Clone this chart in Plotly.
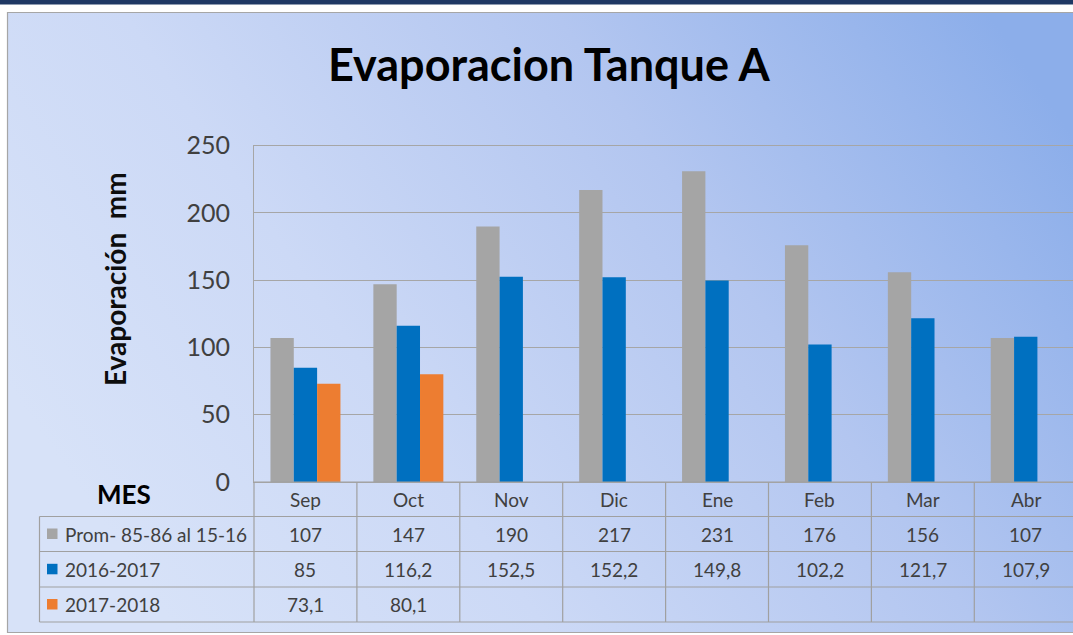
import base64
import plotly.graph_objects as go

# ---------------- data ----------------
months = ["Sep", "Oct", "Nov", "Dic", "Ene", "Feb", "Mar", "Abr"]
series_names = ["Prom- 85-86 al 15-16", "2016-2017", "2017-2018"]
prom = [107, 147, 190, 217, 231, 176, 156, 107]
s2016 = [85, 116.2, 152.5, 152.2, 149.8, 102.2, 121.7, 107.9]
s2017 = [73.1, 80.1, None, None, None, None, None, None]
y_ticks = [0, 50, 100, 150, 200, 250]
colors = ["#a5a5a5", "#0070c0", "#ed7d31"]

W, H = 1073, 635
FONT = "Lato"
TXT = "#404040"
LINE = "#a0a0a0"


def px(x):
    return x / W


def py(y):
    return 1 - y / H


def fmt(v):
    if v is None:
        return ""
    return ("%g" % v).replace(".", ",")


all_series = [prom, s2016, s2017]

fig = go.Figure()
for name, vals, col in zip(series_names, all_series, colors):
    fig.add_trace(go.Bar(x=months, y=vals, name=name, marker=dict(color=col, line=dict(width=0)),
                         showlegend=False, hoverinfo="x+y+name"))

# geometry (pixels)
plot_left, plot_top, plot_bottom = 254, 145.7, 482
cat_w = 102.9
x_end = -0.5 + (W - plot_left) / cat_w

# background gradient image
svg = ("<svg xmlns='http://www.w3.org/2000/svg' width='1066' height='621' viewBox='0 0 1066 621' "
       "preserveAspectRatio='none'><defs><linearGradient id='g' x1='0' y1='0.6' x2='1' y2='0.2'>"
       "<stop offset='0' stop-color='#d7e2f8'/><stop offset='0.3' stop-color='#ccd9f6'/>"
       "<stop offset='0.65' stop-color='#b3c6f0'/><stop offset='1' stop-color='#8caeea'/>"
       "</linearGradient></defs><rect width='1066' height='621' fill='url(#g)'/></svg>")
src = "data:image/svg+xml;base64," + base64.b64encode(svg.encode()).decode()

shapes = []
# navy band
shapes.append(dict(type="rect", xref="paper", yref="paper", x0=0, x1=1, y0=py(0), y1=py(4.5),
                   fillcolor="#1f3864", line=dict(width=0), layer="above"))
# chart border
shapes.append(dict(type="rect", xref="paper", yref="paper", x0=px(7.5), x1=px(1090), y0=py(12.5), y1=py(632.5),
                   fillcolor="rgba(0,0,0,0)", line=dict(color="#a6a6a6", width=1.2), layer="above"))

row_lines = [516.5, 551.5, 587, 622]
for yl in row_lines:
    shapes.append(dict(type="line", xref="paper", yref="paper", x0=px(39.5), x1=px(1090), y0=py(yl), y1=py(yl),
                       line=dict(color=LINE, width=1.2), layer="above"))
shapes.append(dict(type="line", xref="paper", yref="paper", x0=px(plot_left), x1=px(1090),
                   y0=py(plot_bottom), y1=py(plot_bottom), line=dict(color=LINE, width=1.2), layer="above"))
shapes.append(dict(type="line", xref="paper", yref="paper", x0=px(39.5), x1=px(39.5),
                   y0=py(516.5), y1=py(622), line=dict(color=LINE, width=1.2), layer="above"))
shapes.append(dict(type="line", xref="paper", yref="paper", x0=px(plot_left), x1=px(plot_left),
                   y0=py(plot_bottom), y1=py(622), line=dict(color=LINE, width=1.2), layer="above"))
for i in range(1, len(months) + 1):
    shapes.append(dict(type="line", xref="x", yref="paper", x0=i - 0.5, x1=i - 0.5,
                       y0=py(plot_bottom), y1=py(622), line=dict(color=LINE, width=1.2), layer="above"))

annotations = []
# title
annotations.append(dict(text="<b>Evaporacion Tanque A</b>", xref="paper", yref="paper", x=px(549), y=py(64),
                        showarrow=False, xanchor="center", yanchor="middle",
                        font=dict(family=FONT, size=45, color="#000000")))
# y-axis title
annotations.append(dict(text="<b>Evaporación\u00a0\u00a0mm</b>", xref="paper", yref="paper", x=px(115), y=py(279),
                        showarrow=False, textangle=-90, xanchor="center", yanchor="middle",
                        font=dict(family=FONT, size=28, color="#0d0d0d")))
# MES
annotations.append(dict(text="<b>MES</b>", xref="paper", yref="paper", x=px(124), y=py(494),
                        showarrow=False, xanchor="center", yanchor="middle",
                        font=dict(family=FONT, size=26, color="#000000")))

row_centers = [534, 569.3, 604.5]
# month header
for m in months:
    annotations.append(dict(text=m, xref="x", yref="paper", x=m, y=py(499.5), showarrow=False,
                            xanchor="center", yanchor="middle", font=dict(family=FONT, size=19, color=TXT)))
# values
for vals, yc in zip(all_series, row_centers):
    for m, v in zip(months, vals):
        if v is None:
            continue
        annotations.append(dict(text=fmt(v), xref="x", yref="paper", x=m, y=py(yc), showarrow=False,
                                xanchor="center", yanchor="middle", font=dict(family=FONT, size=19, color=TXT)))
# legend keys
for name, col, yc in zip(series_names, colors, row_centers):
    shapes.append(dict(type="rect", xref="paper", yref="paper", x0=px(47), x1=px(57.5),
                       y0=py(yc - 5.5), y1=py(yc + 5), fillcolor=col, line=dict(width=0), layer="above"))
    annotations.append(dict(text=name, xref="paper", yref="paper", x=px(62.5), y=py(yc), showarrow=False,
                            xanchor="left", yanchor="middle", font=dict(family=FONT, size=19, color=TXT)))

fig.update_layout(
    width=W, height=H,
    autosize=False,
    margin=dict(l=0, r=0, t=0, b=0, pad=0, autoexpand=False),
    paper_bgcolor="#ffffff",
    plot_bgcolor="#ffffff",
    barmode="group",
    bargap=0.32,
    bargroupgap=0,
    font=dict(family=FONT, color=TXT),
    images=[dict(source=src, xref="paper", yref="paper", x=px(7), y=py(12), sizex=px(1073 - 7),
                 sizey=(633 - 12) / H, xanchor="left", yanchor="top", sizing="stretch", layer="below")],
    shapes=shapes,
    annotations=annotations,
    xaxis=dict(domain=[px(plot_left), 1], range=[-0.5, x_end], showticklabels=False, showgrid=False,
               zeroline=False, showline=True, mirror=True, linecolor="#a6a6a6", linewidth=1.2,
               fixedrange=True, automargin=False),
    yaxis=dict(domain=[py(plot_bottom), py(plot_top)], range=[0, 250], tickvals=y_ticks,
               showgrid=True, gridcolor="#a6a6a6", gridwidth=1.2, zeroline=False, showline=True,
               mirror=True, linecolor="#a6a6a6", linewidth=1.2, ticks="", ticklabelstandoff=18,
               tickfont=dict(family=FONT, size=25, color=TXT), fixedrange=True, automargin=False),
)

fig.write_html("out.html", config={"displayModeBar": False},
               post_script="document.body.style.margin='0';document.body.style.overflow='hidden';")
